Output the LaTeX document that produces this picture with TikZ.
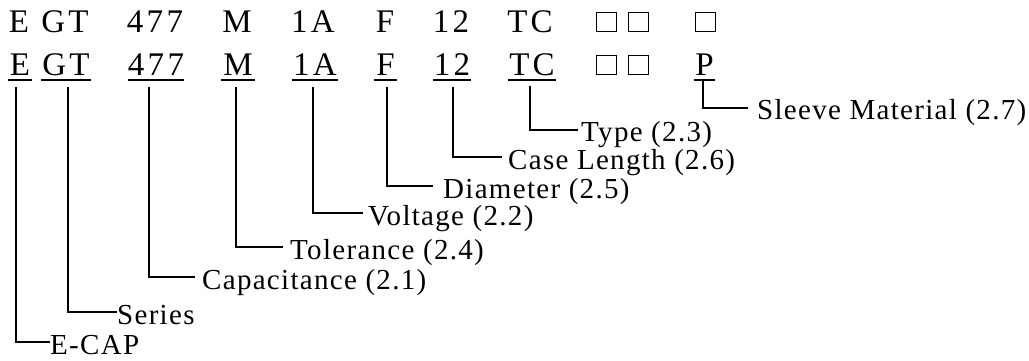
\documentclass[tikz,border=0pt]{standalone}
\usepackage{fontspec}
\setmainfont{Liberation Serif}
\newfontfamily\codefont[LetterSpace=10]{Liberation Serif}
\newfontfamily\labfont[LetterSpace=4.5]{Liberation Serif}
\begin{document}
\begin{tikzpicture}[x=1pt,y=-1pt,
  code/.style={font=\codefont\fontsize{33}{33}\selectfont, inner sep=0pt, anchor=base},
  lab/.style={font=\labfont\fontsize{29}{29}\selectfont, inner ysep=0pt, inner xsep=0pt, text height=24pt, text depth=0pt, anchor=west},
  conn/.style={line width=1.6pt},
  uline/.style={line width=1.6pt},
  sq/.style={draw, line width=1pt, minimum width=20pt, minimum height=19pt, inner sep=0pt}]
\useasboundingbox (0,0) rectangle (1029,361);
% row 1
\node[code] (aE) at (19,33) {E};
\node[code] (aGT) at (65,33) {GT};
\node[code] (a477) at (155,33) {477};
\node[code] (aM) at (237,33) {M};
\node[code] (a1A) at (313,33) {1A};
\node[code] (aF) at (385,33) {F};
\node[code] (a12) at (451,33) {12};
\node[code] (aTC) at (530,33) {TC};
\node[sq] (ab1) at (606,22.5) {};
\node[sq] (ab2) at (638,22.5) {};
\node[sq] (ab3) at (705,22.5) {};
% row 2
\node[code, minimum width=24pt] (uE) at (20,76) {E};
\node[code, minimum width=50pt] (uGT) at (66,76) {GT};
\node[code, minimum width=56pt] (u477) at (156,76) {477};
\node[code, minimum width=34pt] (uM) at (238,76) {M};
\node[code, minimum width=46pt] (u1A) at (315,76) {1A};
\node[code, minimum width=23pt] (uF) at (385.5,76) {F};
\node[code, minimum width=38pt] (u12) at (452,76) {12};
\node[code, minimum width=48pt] (uTC) at (532,76) {TC};
\node[sq] (bb1) at (606,65.5) {};
\node[sq] (bb2) at (638,65.5) {};
\node[code, minimum width=21pt] (uP) at (704.5,76) {P};
\foreach \n in {uE,uGT,u477,uM,u1A,uF,u12,uTC,uP}
  \draw[uline] ([yshift=-4pt]\n.base west) -- ([yshift=-4pt]\n.base east);
% labels
\node[lab] (lE) at (50,342) {E-CAP};
\node[lab] (lGT) at (117,312) {Series};
\node[lab, inner xsep=7pt] (l477) at (195,277) {Capacitance (2.1)};
\node[lab, inner xsep=7pt] (lM) at (283,247) {Tolerance (2.4)};
\node[lab, inner xsep=5pt] (l1A) at (363,213) {Voltage (2.2)};
\node[lab, inner xsep=10pt] (lF) at (433,186) {Diameter (2.5)};
\node[lab, inner xsep=6pt] (l12) at (502,157) {Case Length (2.6)};
\node[lab, inner xsep=3pt] (lTC) at (578,130) {Type (2.3)};
\node[lab, inner xsep=9pt] (lP) at (748,108) {Sleeve Material (2.7)};
% connector start points
\coordinate (sE) at (16,87);
\coordinate (sGT) at (68,87);
\coordinate (s477) at (149,87);
\coordinate (sM) at (236,87);
\coordinate (s1A) at (313,87);
\coordinate (sF) at (387,87);
\coordinate (s12) at (453,87);
\coordinate (sTC) at (530,86);
\coordinate (sP) at (703,80);
\foreach \k in {E,GT,477,M,1A,F,12,TC,P}
  \draw[conn] (s\k) |- (l\k.west);
\end{tikzpicture}
\end{document}
